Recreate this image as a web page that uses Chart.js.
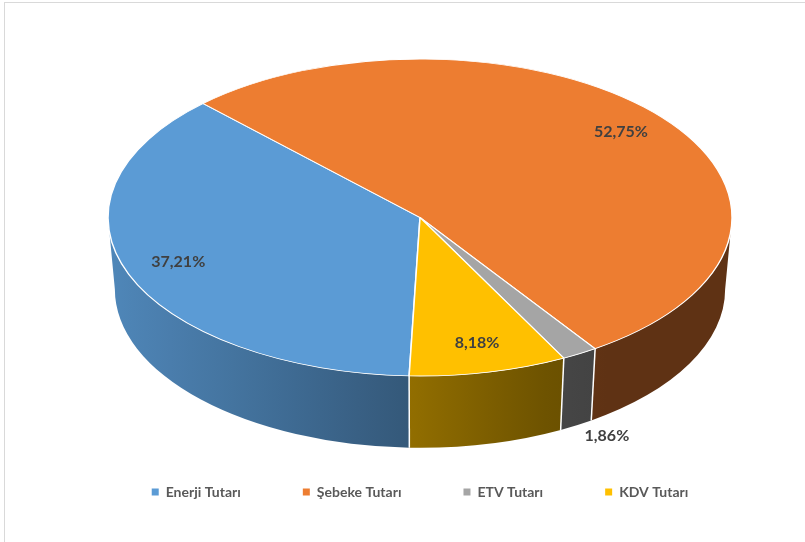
<!DOCTYPE html>
<html>
<head>
<meta charset="utf-8">
<script src="https://cdn.jsdelivr.net/npm/chart.js@4.4.1/dist/chart.umd.min.js"></script>
<style>
  html, body { margin: 0; padding: 0; background: #fff; overflow: hidden; }
  #frame { position: absolute; left: 4px; top: 2px; width: 900px; height: 700px; border: 1px solid #d9d9d9; }
  #wrap { position: absolute; left: 0; top: 0; width: 805px; height: 542px; }
</style>
</head>
<body>
<div id="frame"></div>
<div id="wrap"><canvas id="cost_share"></canvas></div>
<script>
var labels = ['Enerji Tutarı', 'Şebeke Tutarı', 'ETV Tutarı', 'KDV Tutarı'];
var shares = [37.21, 52.75, 1.86, 8.18];
var colors = ['#5B9BD5', '#ED7D31', '#A5A5A5', '#FFC000'];

// fake 3d look
var tilt = 0.508;       // vertical squash of top face
var depthRatio = 0.23;  // wall height / radius
var baseRatio = 0.978;  // bottom rim a bit narrower (perspective)
var TAU = Math.PI * 2;

function shade(hex, f) {
    var r = parseInt(hex.substr(1, 2), 16), g = parseInt(hex.substr(3, 2), 16), b = parseInt(hex.substr(5, 2), 16);
    return 'rgb(' + Math.round(r * f) + ',' + Math.round(g * f) + ',' + Math.round(b * f) + ')';
}
function wallFactor(xn) {
    return xn < 0 ? 0.56 - 0.31 * xn : Math.max(0.4, 0.56 - 0.32 * xn);
}
function isFront(a) {
    var n = ((a % TAU) + TAU) % TAU;
    return n > 0.02 && n < Math.PI - 0.02;
}

var pie3d = {
    id: 'pie3d',
    beforeDatasetsDraw: function(chart) {
        var ctx = chart.ctx;
        var arcs = chart.getDatasetMeta(0).data;
        var cx = arcs[0].x, cy = arcs[0].y, r = arcs[0].outerRadius;
        var ry = r * tilt, depth = r * depthRatio, rb = r * baseRatio;

        arcs.forEach(function(arc, i) {
            var s0 = ((arc.startAngle % TAU) + TAU) % TAU;
            var e0 = s0 + (arc.endAngle - arc.startAngle);
            [0, TAU].forEach(function(k) {
                var a = Math.max(s0, k), b = Math.min(e0, k + Math.PI);
                if (b <= a) return;
                var grad = ctx.createLinearGradient(cx - r, 0, cx + r, 0);
                for (var t = 0; t <= 10; t++) {
                    grad.addColorStop(t / 10, shade(colors[i], wallFactor(-1 + t / 5)));
                }
                ctx.beginPath();
                ctx.ellipse(cx, cy, r, ry, 0, a, b);
                ctx.ellipse(cx, cy + depth, rb, ry, 0, b, a, true);
                ctx.closePath();
                ctx.fillStyle = grad;
                ctx.fill();
            });
        });

        // white seams between walls
        ctx.strokeStyle = '#ffffff';
        ctx.lineWidth = 1.5;
        arcs.forEach(function(arc) {
            var a = arc.startAngle;
            if (!isFront(a)) return;
            ctx.beginPath();
            ctx.moveTo(cx + r * Math.cos(a), cy + ry * Math.sin(a));
            ctx.lineTo(cx + rb * Math.cos(a), cy + depth + ry * Math.sin(a));
            ctx.stroke();
        });

        ctx.save();
        ctx.translate(0, cy);
        ctx.scale(1, tilt);
        ctx.translate(0, -cy);
    },
    afterDatasetsDraw: function(chart) {
        var ctx = chart.ctx;
        ctx.restore();
        var arcs = chart.getDatasetMeta(0).data;
        var values = chart.data.datasets[0].data;
        ctx.save();
        ctx.font = 'bold 16px Lato';
        ctx.fillStyle = '#404040';
        ctx.textAlign = 'center';
        ctx.textBaseline = 'middle';
        arcs.forEach(function(arc, i) {
            var mid = (arc.startAngle + arc.endAngle) / 2;
            var r = arc.outerRadius, x, y;
            if (values[i] < 3) {
                // small slice: label outside, under the wall
                x = arc.x + r * 1.17 * Math.cos(mid);
                y = arc.y + r * tilt * Math.sin(mid) + r * depthRatio + 10;
            } else {
                x = arc.x + r * 0.83 * Math.cos(mid);
                y = arc.y + r * 0.83 * tilt * Math.sin(mid) - 3;
            }
            ctx.fillText(values[i].toFixed(2).replace('.', ',') + '%', x, y);
        });
        ctx.restore();
    }
};

var baseLabels = (Chart.overrides.pie && Chart.overrides.pie.plugins && Chart.overrides.pie.plugins.legend)
    ? Chart.overrides.pie.plugins.legend.labels.generateLabels
    : Chart.overrides.doughnut.plugins.legend.labels.generateLabels;

var ctx = document.getElementById('cost_share');
var pieChart = new Chart(ctx, {
    type: 'pie',
    data: {
        labels: labels,
        datasets: [{
            data: shares,
            backgroundColor: colors,
            borderColor: '#ffffff',
            borderWidth: 1.5,
            rotation: 182,
            radius: 312
        }]
    },
    options: {
        responsive: true,
        maintainAspectRatio: false,
        animation: false,
        events: [],
        layout: {
            padding: { left: 35, right: 0, top: 12, bottom: 33 }
        },
        plugins: {
            legend: {
                position: 'bottom',
                labels: {
                    boxWidth: 7,
                    boxHeight: 7,
                    padding: 62,
                    color: '#595959',
                    font: { family: 'Lato', size: 14, weight: 'bold' },
                    generateLabels: function(chart) {
                        var items = baseLabels(chart);
                        items.forEach(function(it) { it.lineWidth = 0; });
                        return items;
                    }
                }
            },
            tooltip: { enabled: false }
        }
    },
    plugins: [pie3d]
});
</script>
</body>
</html>
